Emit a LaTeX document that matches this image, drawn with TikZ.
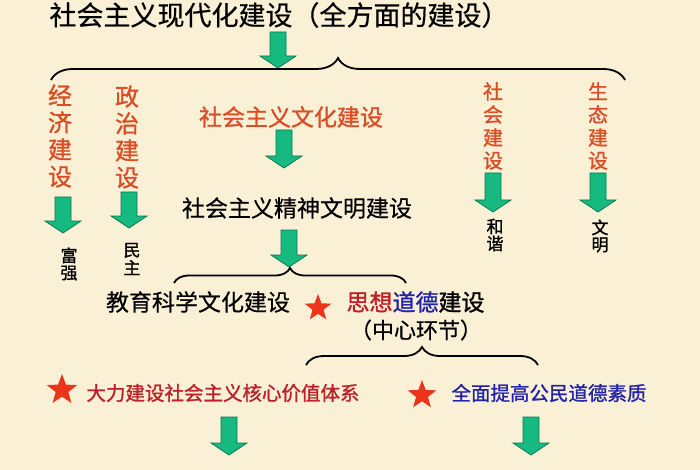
\documentclass[tikz,border=0pt]{standalone}
\usepackage{fontspec}
\newfontfamily\cjk{Noto Sans CJK SC}[FakeBold=0.5]
\newfontfamily\cjkheavy{Noto Sans CJK SC}[FakeBold=1.2]
\usetikzlibrary{calc,decorations.pathreplacing,shapes.geometric}
\definecolor{paper}{RGB}{249,240,214}
\definecolor{arrowgreen}{RGB}{22,186,128}
\definecolor{arrowedge}{RGB}{12,120,80}
\definecolor{orangered}{RGB}{218,78,38}
\definecolor{deepred}{RGB}{192,30,40}
\definecolor{deepblue}{RGB}{35,35,170}
\definecolor{starred}{RGB}{236,52,28}
\def\greenarrow(#1)(#2){\draw[arrowbody] let \p1=(#1), \p2=(#2) in (\x1-8pt,\y1) -- (\x1+8pt,\y1) -- (\x1+8pt,\y2+12pt) -- (\x1+18pt,\y2+12pt) -- (\x1,\y2) -- (\x1-18pt,\y2+12pt) -- (\x1-8pt,\y2+12pt) -- cycle;}
\def\fsize#1#2{\fontsize{#1}{#2}\selectfont}

\begin{document}
\begin{tikzpicture}[x=1pt,y=-1pt,
	word/.style={inner sep=0pt,align=center},
	arrowbody/.style={fill=arrowgreen,draw=arrowedge,line width=0.8pt},
	bracepen/.style={line width=1.8pt,decorate,decoration={brace,amplitude=#1}},
	redstar/.style={star,star points=5,star point ratio=2.4,fill=starred,inner sep=0pt,minimum size=#1}]
	%%%%% START %%%%%
	\fill[paper] (0,0) rectangle (700,470);
	
	\node[word,font=\cjk\fsize{27}{30}] (title) at (279,15) {社会主义现代化建设（全方面的建设）};
	\coordinate (a1s) at (278,32);
	\coordinate (a1e) at (278,68);
	\greenarrow(a1s)(a1e)
	
	\coordinate (b1l) at (51,80);
	\coordinate (b1r) at (625,80);
	\draw[bracepen=22pt] (b1l) -- (b1r);
	
	\node[word,text=orangered,font=\cjkheavy\fsize{24}{27}] (econ) at (60,136) {经\\济\\建\\设};
	\node[word,text=orangered,font=\cjkheavy\fsize{24}{27}] (poli) at (127,137) {政\\治\\建\\设};
	\node[word,text=orangered,font=\cjkheavy\fsize{20}{23}] (soci) at (493,126) {社\\会\\建\\设};
	\node[word,text=orangered,font=\cjkheavy\fsize{20}{23}] (ecol) at (598,126) {生\\态\\建\\设};
	\node[word,text=orangered,font=\cjkheavy\fsize{23}{26}] (cult) at (291,117) {社会主义文化建设};
	
	\coordinate (a2s) at (284,130);
	\coordinate (a2e) at (284,168);
	\greenarrow(a2s)(a2e)
	\coordinate (a3s) at (63,197);
	\coordinate (a3e) at (63,233);
	\greenarrow(a3s)(a3e)
	\coordinate (a4s) at (129,192);
	\coordinate (a4e) at (129,228);
	\greenarrow(a4s)(a4e)
	\coordinate (a5s) at (493,173);
	\coordinate (a5e) at (493,212);
	\greenarrow(a5s)(a5e)
	\coordinate (a6s) at (598,173);
	\coordinate (a6e) at (598,212);
	\greenarrow(a6s)(a6e)
	
	\node[word,font=\cjkheavy\fsize{17}{17}] (rich) at (69,264) {富\\强};
	\node[word,font=\cjkheavy\fsize{17}{18}] (demo) at (132,259) {民\\主};
	\node[word,font=\cjkheavy\fsize{17}{17}] (harm) at (495,235) {和\\谐};
	\node[word,font=\cjkheavy\fsize{17}{17}] (civi) at (600,236) {文\\明};
	
	\node[word,font=\cjk\fsize{23}{26}] (spirit) at (297,208) {社会主义精神文明建设};
	\coordinate (a7s) at (289,230);
	\coordinate (a7e) at (289,267);
	\greenarrow(a7s)(a7e)
	\coordinate (b2l) at (174,283);
	\coordinate (b2r) at (406,283);
	\draw[bracepen=15pt] (b2l) -- (b2r);
	
	\node[word,font=\cjk\fsize{23}{26}] (edu) at (198,302) {教育科学文化建设};
	\node[redstar=28pt] (s0) at (318,308) {};
	\node[word,font=\cjkheavy\fsize{23}{26}] (moral) at (415.5,302) {\textcolor{deepred}{思想}\textcolor{deepblue}{道德}建设};
	\node[word,font=\cjk\fsize{22}{26}] (core) at (416,330) {（中心环节）};
	
	\coordinate (b3l) at (306,365);
	\coordinate (b3r) at (538,365);
	\draw[bracepen=18pt] (b3l) -- (b3r);
	
	\node[redstar=32pt] (s1) at (62,390) {};
	\node[word,text=deepred,font=\cjkheavy\fsize{19.5}{22}] (value) at (223,393) {大力建设社会主义核心价值体系};
	\node[redstar=30pt] (s2) at (422,395) {};
	\node[word,text=deepblue,font=\cjkheavy\fsize{19.5}{22}] (civic) at (549,393) {全面提高公民道德素质};
	
	\coordinate (a8s) at (229,417);
	\coordinate (a8e) at (229,455);
	\greenarrow(a8s)(a8e)
	\coordinate (a9s) at (531,417);
	\coordinate (a9e) at (531,455);
	\greenarrow(a9s)(a9e)
	%%%%% END %%%%%
\end{tikzpicture}
\end{document}
